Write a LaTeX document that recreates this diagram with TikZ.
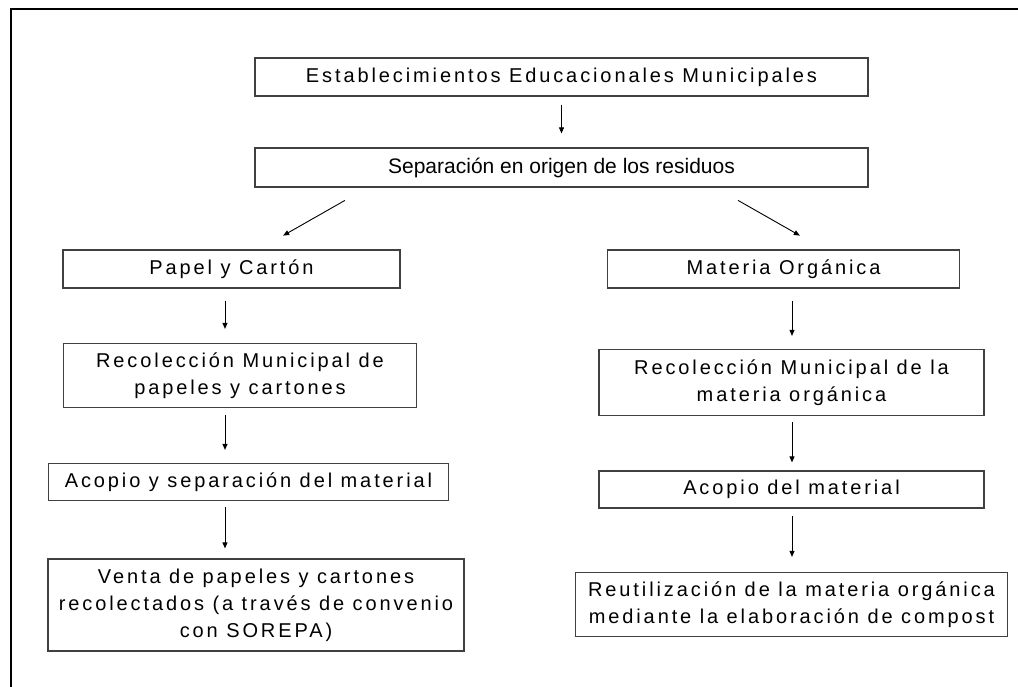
\documentclass[tikz,border=0pt]{standalone}
\usepackage{fontspec}
\setmainfont{Liberation Sans}
\newfontfamily\spaced[LetterSpace=14.5]{Liberation Sans}
\usetikzlibrary{arrows.meta}
\usetikzlibrary{positioning}

\begin{document}
\begin{tikzpicture}[x=1pt,y=-1pt]
\tikzstyle{caja}=[draw=black!75,line width=1.2pt,inner sep=0pt,align=center,
  font=\spaced\fontsize{20}{27}\selectfont]
\tikzstyle{flecha}=[line width=0.9pt,-{Triangle[length=6pt,width=5pt]}]
\useasboundingbox (0,0) rectangle (1018,687);
\draw[line width=2pt] (11,687) -- (11,9) -- (1018,9);

\node[caja,minimum width=613pt,minimum height=38pt] (est) at (561.5,77)
  {Establecimientos Educacionales Municipales};
\node[caja,minimum width=613pt,minimum height=39pt,
  font=\fontsize{21}{27}\selectfont] (sep) at (561.5,167.5)
  {Separación en origen de los residuos};
\node[caja,minimum width=337pt,minimum height=38pt] (pap) at (231.5,269)
  {Papel y Cartón};
\node[caja,minimum width=352pt,minimum height=38pt] (mat) at (783.5,269)
  {Materia Orgánica};
\node[caja,minimum width=353pt,minimum height=64pt] (recp) at (240,375.5)
  {Recolección Municipal de\\papeles y cartones};
\node[caja,minimum width=400pt,minimum height=37pt] (acp) at (248.5,482)
  {Acopio y separación del material};
\node[caja,minimum width=416pt,minimum height=92pt] (ven) at (256,605)
  {Venta de papeles y cartones\\recolectados (a través de convenio\\con SOREPA)};
\node[caja,minimum width=385pt,minimum height=66pt] (recm) at (791.5,382.5)
  {Recolección Municipal de la\\materia orgánica};
\node[caja,minimum width=385pt,minimum height=37pt] (acm) at (791.5,489.5)
  {Acopio del material};
\node[caja,minimum width=432pt,minimum height=64pt] (reu) at (791.5,604.5)
  {Reutilización de la materia orgánica\\mediante la elaboración de compost};

\coordinate (colL) at (225,0);
\coordinate (colR) at (792,0);
\coordinate (dl1) at (367.4,0);
\coordinate (dl2) at (258.9,0);
\coordinate (dr1) at (715.6,0);
\coordinate (dr2) at (824.1,0);

\draw[flecha,shorten <=8pt,shorten >=14pt] (est) -- (sep);
\draw[flecha,shorten <=25.9pt,shorten >=27.9pt] (sep.south -| dl1) -- (pap.north -| dl2);
\draw[flecha,shorten <=25.9pt,shorten >=27.9pt] (sep.south -| dr1) -- (mat.north -| dr2);
\draw[flecha,shorten <=12pt,shorten >=14pt] (pap.south -| colL) -- (recp.north -| colL);
\draw[flecha,shorten <=7pt,shorten >=13pt] (recp.south -| colL) -- (acp.north -| colL);
\draw[flecha,shorten <=6pt,shorten >=10pt] (acp.south -| colL) -- (ven.north -| colL);
\draw[flecha,shorten <=12pt,shorten >=13pt] (mat.south -| colR) -- (recm.north -| colR);
\draw[flecha,shorten <=6pt,shorten >=8pt] (recm.south -| colR) -- (acm.north -| colR);
\draw[flecha,shorten <=7pt,shorten >=15pt] (acm.south -| colR) -- (reu.north -| colR);
\end{tikzpicture}
\end{document}
